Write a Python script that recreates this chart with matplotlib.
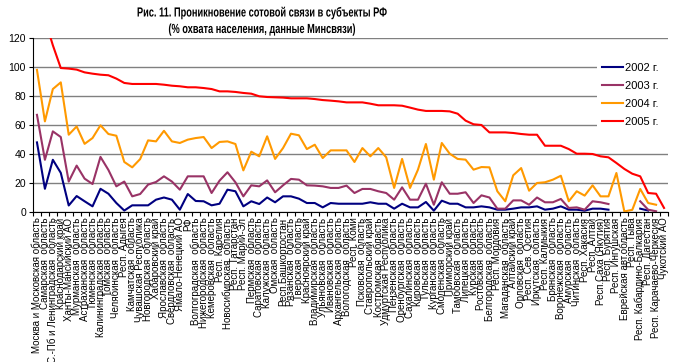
import matplotlib
matplotlib.use("Agg")
import matplotlib.pyplot as plt
import matplotlib.patheffects as pe
from matplotlib.patches import Rectangle
from matplotlib.transforms import Affine2D
import numpy as np

nan = np.nan

regions = ["Москва и Московская область", "Самарская  область", "С.-Пб и Ленинградская  область",
           "Краснодарский край", "Ханты-Мансийский АО", "Мурманская  область", "Астраханская  область",
           "Тюменская  область", "Калининградская  область", "Томская  область", "Челябинская  область",
           "Респ. Адыгея", "Камчатская  область", "Чувашская Республика", "Новгородская  область",
           "Хабаровский край", "Ярославская  область", "Свердловская  область", "Ямало-Ненецкий АО", "РФ",
           "Волгоградская  область", "Нижегородская  область", "Кемеровская  область", "Респ. Карелия",
           "Новосибирская  область", "Респ. Татарстан", "Респ. Марий-Эл", "Пермская  область",
           "Саратовская  область", "Калужская  область", "Омская  область", "Респ.Башкортостан",
           "Рязанская  область", "Тверская  область", "Красноярский край", "Владимирская  область",
           "Ульяновская  область", "Ивановская  область", "Архангельская  область", "Вологодская  область",
           "Респ. Коми", "Псковская  область", "Ставропольский край", "Костромская  область",
           "Удмуртская Республика", "Пензенская  область", "Оренбургская  область", "Сахалинская  область",
           "Кировская  область", "Тульская  область", "Курганская  область", "Смоленская  область",
           "Приморский край", "Тамбовская  область", "Липецкая  область", "Курская  область",
           "Ростовская  область", "Белгородская  область", "Респ. Мордовия", "Магаданская  область",
           "Алтайский край", "Орловская  область", "Респ. Сев. Осетия", "Иркутская  область",
           "Респ. Калмыкия", "Брянская  область", "Воронежская  область", "Амурская  область",
           "Читинская  область", "Респ. Хакасия", "Респ. Алтай", "Респ.Саха (Якутия)", "Респ. Бурятия",
           "Респ. Ингушская", "Еврейская авт.область", "Респ. Тыва", "Респ. Кабардино-Балкария",
           "Респ. Дагестан", "Респ. Карачаево-Черкесия", "Чукотский АО"]

y2002 = [48, 16, 36, 27, 4.5, 11, 7.4, 3.9, 16, 12.6, 6.2, 1, 4.6, 4.6, 4.6, 8.5, 10, 8.5, 1.6, 12.4,
         7.6, 7.4, 4.6, 5.7, 15.4, 14.3, 3.9, 7.4, 5.5, 10, 6.7, 10.8, 10.8, 9.2, 6.2, 6.2, 3.2, 6.2, 5.7, 5.7,
         5.7, 5.7, 6.7, 5.7, 5.7, 2.3, 5.7, 3.2, 3.2, 6.9, 0.9, 7.8, 5.7, 5.7, 3.2, 3.2, 3.9, 3.2, 1.6, 1.6,
         2.3, 3.2, 3.2, 3.9, 1.6, 2.3, 3.9, 1.6, 1.6, 0.9, 2.3, 2.3, 1.6, nan, nan, nan, 2.3, 1.0, nan, nan]

y2003 = [67, 36, 55.6, 51.7, 21, 32, 23, 19.3, 38, 29, 17.7, 21, 10.8, 12.4, 18.9, 20.7, 24.6, 21, 15.4, 24.6,
         24.6, 24.6, 13.1, 21.6, 27.4, 20.5, 10.8, 18.4, 17.7, 21.8, 13.6, 18.4, 22.8, 22.3, 18.4, 18.2, 17.7,
         16.6, 16.6, 18.2,
         13.1, 15.9, 15.9, 14.3, 13.1, 8.5, 17, 8.5, 8.5, 19.5, 5, 20.5, 12.6, 12.6, 13.6, 6.2, 11.5, 10, 2.3, 2.3,
         8, 8, 5, 10, 6.7, 6.7, 9, 2.8, 3.2, 1.6, 7.4, 6.7, 5.5, nan, nan, nan, 7.4, 1.6, 0.5, nan]

y2004 = [98, 62.5, 84.8, 89.4, 53.3, 59, 47, 51, 59.8, 53.8, 52.6, 34.5, 30.8, 36.5, 49.4, 48.7, 56, 48.7, 47.6, 49.9,
         51, 51.7, 44.1, 48.3, 48.7, 46.9, 28.7, 41.6, 38.4, 52.2, 36.6, 44.1, 54, 52.9, 43.4, 46.4, 37.2, 42.5,
         42.5, 42.5,
         34.5, 44.1, 38.4, 44.1, 37.7, 16.6, 36.6, 16.6, 29.2, 46.9, 22.3, 47.6, 40.2, 36.6, 36.1, 29.2, 31, 30.8,
         14.3, 7.4,
         25.3, 30.3, 14.7, 20, 20.5, 22.3, 25, 7.4, 14.3, 11.3, 18.4, 10.8, 10.8, 26.9, 0.4, 1.5, 15.9, 6.2, 5, nan]

y2005 = [150, 133, 115, 99.3, 98.9, 98.2, 96.3, 95.4, 94.7, 94.3, 92, 89, 88.3, 88.3, 88.3, 88.3, 87.8, 87.1, 86.7, 86,
         86, 85.5, 84.8, 83.2, 83.2, 82.8, 82.1, 81.6, 79.8, 79.3, 79.1, 78.9, 78.4, 78.4, 78.4, 77.9, 77.2, 76.8,
         76.3, 75.6,
         75.6, 75.6, 74.7, 73.6, 73.6, 73.6, 73.3, 72, 70.6, 69.7, 69.7, 69.7, 69.4, 67.8, 63, 60.5, 60, 54.9,
         54.9, 54.9,
         54.5, 53.8, 53.3, 53.3, 45.7, 45.7, 45.7, 43.4, 40.2, 40.2, 40, 38.4, 37.7, 33.8, 29.7, 26.4, 24.6, 13.1,
         12.6, 2.8]

series = [("2002 г.", y2002, "#000080"), ("2003 г.", y2003, "#993366"),
          ("2004 г.", y2004, "#FF9900"), ("2005 г.", y2005, "#FF0000")]


class Squeeze(pe.AbstractPathEffect):
    # narrow the glyphs horizontally (no condensed font installed)
    def __init__(self, sx):
        super().__init__()
        self.sx = sx

    def draw_path(self, renderer, gc, tpath, affine, rgbFace=None):
        w = tpath.get_extents().x1
        t = Affine2D().scale(self.sx, 1).translate((1 - self.sx) * w / 2, 0) + affine
        renderer.draw_path(gc, tpath, t, rgbFace)


plt.rcParams['font.family'] = ['Liberation Sans', 'DejaVu Sans']

fig = plt.figure(figsize=(6.73, 3.62), dpi=100)
ax = fig.add_axes([33 / 673, 150 / 362, 635 / 673, 174 / 362])

x = np.arange(len(regions))
for name, vals, col in series:
    ax.plot(x, vals, color=col, lw=1.5, label=name)

ax.set_xlim(-0.5, len(regions) - 0.5)
ax.set_ylim(0, 120)
ax.set_yticks(range(0, 121, 20))
ax.grid(axis='y', color='#808080', lw=1)
ax.set_axisbelow(True)
for s in ['top', 'right']:
    ax.spines[s].set_visible(False)
ax.spines['left'].set_linewidth(0.8)
ax.spines['bottom'].set_linewidth(0.8)

ax.set_xticks(x)
ax.set_xticklabels(regions, rotation=90, fontsize=7, va='top', ha='center')
ax.set_xticks(np.arange(-0.5, len(regions), 1), minor=True)
ax.tick_params(axis='x', which='major', length=0, pad=4)
ax.tick_params(axis='x', which='minor', length=3, direction='out', width=0.8)
ax.tick_params(axis='y', length=3, direction='out', width=0.8, labelsize=7.5, pad=2)

# white legend area reaching the right edge
ax.add_patch(Rectangle((597 / 673, 1 - 133 / 362), 76 / 673, 76 / 362, transform=fig.transFigure,
                       facecolor='white', edgecolor='none', zorder=3, clip_on=False))
leg = ax.legend(loc='upper left', bbox_to_anchor=(597 / 673, 1 - 58 / 362),
                bbox_transform=fig.transFigure, fontsize=8, frameon=False,
                borderaxespad=0, borderpad=0.45,
                handlelength=1.9, handletextpad=0.2, labelspacing=0.72)

tfont = dict(ha='center', va='center', fontsize=9.5, fontweight='bold',
             path_effects=[Squeeze(0.70)])
fig.text(262 / 673, 1 - 13 / 362, "Рис. 11. Проникновение сотовой связи в субъекты РФ", **tfont)
fig.text(262 / 673, 1 - 30 / 362, "(% охвата населения, данные Минсвязи)", **tfont)

fig.savefig("out.png", dpi=100)
